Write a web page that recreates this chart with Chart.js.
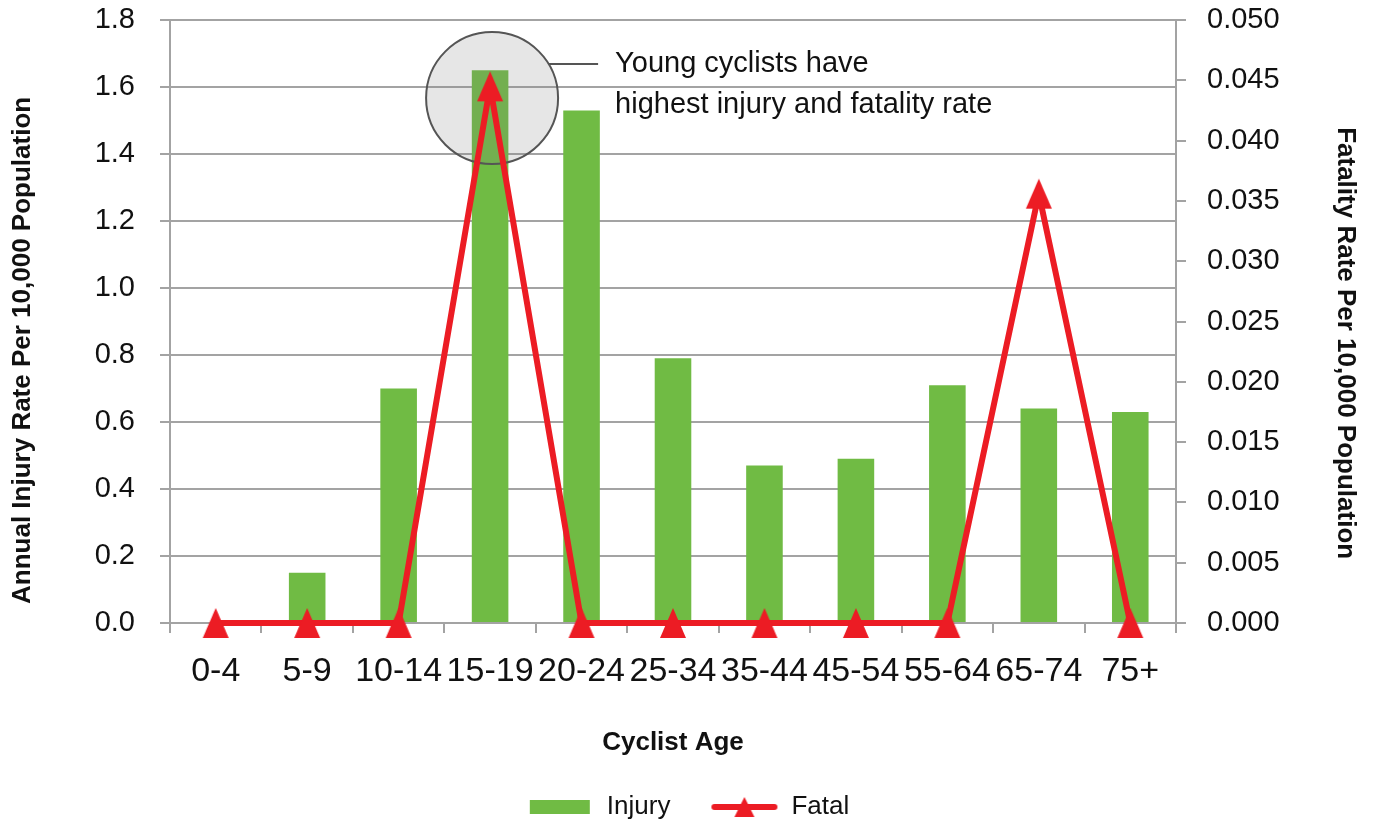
<!DOCTYPE html>
<html>
<head>
<meta charset="utf-8">
<script src="https://cdn.jsdelivr.net/npm/chart.js@4/dist/chart.umd.min.js"></script>
<style>
  body { margin: 0; background: #fff; }
  #wrap { width: 1375px; height: 825px; }
</style>
</head>
<body>
<div id="wrap"><canvas id="ageChart" width="1375" height="825"></canvas></div>
<script>
// data
const ageGroups = ['0-4', '5-9', '10-14', '15-19', '20-24', '25-34', '35-44', '45-54', '55-64', '65-74', '75+'];
const injuryRate = [0, 0.15, 0.70, 1.65, 1.53, 0.79, 0.47, 0.49, 0.71, 0.64, 0.63];
const fatalRate = [0, 0, 0, 0.0445, 0, 0, 0, 0, 0, 0.0356, 0];
const injuryTicks = [0, 0.2, 0.4, 0.6, 0.8, 1.0, 1.2, 1.4, 1.6, 1.8];
const fatalTicks = [0, 0.005, 0.01, 0.015, 0.02, 0.025, 0.03, 0.035, 0.04, 0.045, 0.05];
const noteLines = ['Young cyclists have', 'highest injury and fatality rate'];

const GREEN = '#70bb44';
const RED = '#ec1c24';
const GRID = '#a3a3a3';
const FONT = "'Liberation Sans', Arial, sans-serif";

// marker + legend keys
function makeTriangle() {
  let c = document.createElement('canvas');
  c.width = 30; c.height = 32;
  let g = c.getContext('2d');
  g.fillStyle = RED;
  g.beginPath();
  g.moveTo(15, 1); g.lineTo(28, 31); g.lineTo(2, 31);
  g.closePath(); g.fill();
  return c;
}
function makeInjuryKey() {
  let c = document.createElement('canvas');
  c.width = 62; c.height = 16;
  let g = c.getContext('2d');
  g.fillStyle = GREEN;
  g.fillRect(1, 1, 60, 14);
  return c;
}
function makeFatalKey() {
  let c = document.createElement('canvas');
  c.width = 68; c.height = 24;
  let g = c.getContext('2d');
  g.strokeStyle = RED; g.lineWidth = 6; g.lineCap = 'round';
  g.beginPath(); g.moveTo(4, 12); g.lineTo(64, 12); g.stroke();
  g.fillStyle = RED;
  g.beginPath(); g.moveTo(34, 2); g.lineTo(44, 22); g.lineTo(24, 22); g.closePath(); g.fill();
  return c;
}
const triangle = makeTriangle();
const legendKeys = [makeInjuryKey(), makeFatalKey()];

// circle callout, drawn over the bars but under the red line
const callout = {
  id: 'callout',
  afterDatasetDraw(chart, args) {
    if (args.index !== 0) return;
    const ctx = chart.ctx;
    const xs = chart.scales.x, ys = chart.scales.y;
    const cx = xs.getPixelForValue(3) + 2;
    const cy = ys.getPixelForValue(1.567);
    const r = ys.getPixelForValue(1.567 - 0.197) - cy;
    ctx.save();
    ctx.fillStyle = 'rgba(128,128,128,0.2)';
    ctx.strokeStyle = '#555555';
    ctx.lineWidth = 2;
    ctx.beginPath(); ctx.arc(cx, cy, r, 0, Math.PI * 2); ctx.fill(); ctx.stroke();
    const ly = cy - 34;
    const lx = cx + Math.sqrt(r * r - 34 * 34);
    ctx.beginPath(); ctx.moveTo(lx, ly); ctx.lineTo(cx + 106, ly); ctx.stroke();
    ctx.fillStyle = '#111';
    ctx.font = '29px ' + FONT;
    ctx.textBaseline = 'middle';
    ctx.fillText(noteLines[0], cx + 123, ly);
    ctx.fillText(noteLines[1], cx + 123, ly + 41);
    ctx.restore();
  }
};

new Chart(document.getElementById('ageChart'), {
  type: 'bar',
  data: {
    labels: ageGroups,
    datasets: [
      {
        label: 'Injury',
        data: injuryRate,
        backgroundColor: GREEN,
        categoryPercentage: 1,
        barPercentage: 0.4,
        yAxisID: 'y',
        order: 2
      },
      {
        type: 'line',
        label: 'Fatal',
        data: fatalRate,
        borderColor: RED,
        backgroundColor: RED,
        borderWidth: 6,
        borderJoinStyle: 'round',
        pointStyle: triangle,
        clip: false,
        yAxisID: 'y1',
        order: 1
      }
    ]
  },
  options: {
    responsive: false,
    animation: false,
    layout: { padding: { top: 20, bottom: -5 } },
    plugins: {
      tooltip: { enabled: false },
      legend: {
        position: 'bottom',
        labels: {
          usePointStyle: true,
          pointStyleWidth: 68,
          padding: 40,
          color: '#111',
          font: { family: FONT, size: 26 },
          sort: (a, b) => a.datasetIndex - b.datasetIndex,
          generateLabels(chart) {
            let items = Chart.defaults.plugins.legend.labels.generateLabels(chart);
            items.forEach(it => { it.pointStyle = legendKeys[it.datasetIndex]; });
            return items;
          }
        }
      }
    },
    scales: {
      x: {
        afterFit(scale) { scale.height = 131; },
        grid: { offset: true, drawOnChartArea: false, color: GRID, lineWidth: 2, tickLength: 10 },
        border: { color: GRID, width: 2 },
        ticks: { color: '#111', font: { family: FONT, size: 34 }, padding: 18, autoSkip: false, maxRotation: 0 },
        title: { display: true, text: 'Cyclist Age', color: '#111', font: { family: FONT, size: 26, weight: 'bold', lineHeight: 0.85 }, padding: 0 }
      },
      y: {
        position: 'left',
        min: 0, max: 1.8,
        afterFit(scale) { scale.width = 170; scale.paddingTop = 0; },
        afterBuildTicks(scale) { scale.ticks = injuryTicks.map(v => ({ value: v })); },
        grid: { color: GRID, lineWidth: 2, tickLength: 10 },
        border: { color: GRID, width: 2 },
        ticks: { color: '#111', font: { family: FONT, size: 29 }, padding: 25, callback: v => v.toFixed(1) },
        title: { display: true, text: 'Annual Injury Rate Per 10,000 Population        ', color: '#111', font: { family: FONT, size: 26, weight: 'bold' }, padding: 7 }
      },
      y1: {
        position: 'right',
        min: 0, max: 0.05,
        afterFit(scale) { scale.width = 199; scale.paddingTop = 0; },
        afterBuildTicks(scale) { scale.ticks = fatalTicks.map(v => ({ value: v })); },
        grid: { drawOnChartArea: false, color: GRID, lineWidth: 2, tickLength: 10 },
        border: { color: GRID, width: 2 },
        ticks: { color: '#111', font: { family: FONT, size: 29 }, padding: 21, callback: v => v.toFixed(3) },
        title: { display: true, text: '      Fatality Rate Per 10,000 Population', color: '#111', font: { family: FONT, size: 26, weight: 'bold' }, padding: 14 }
      }
    }
  },
  plugins: [callout]
});
</script>
</body>
</html>
